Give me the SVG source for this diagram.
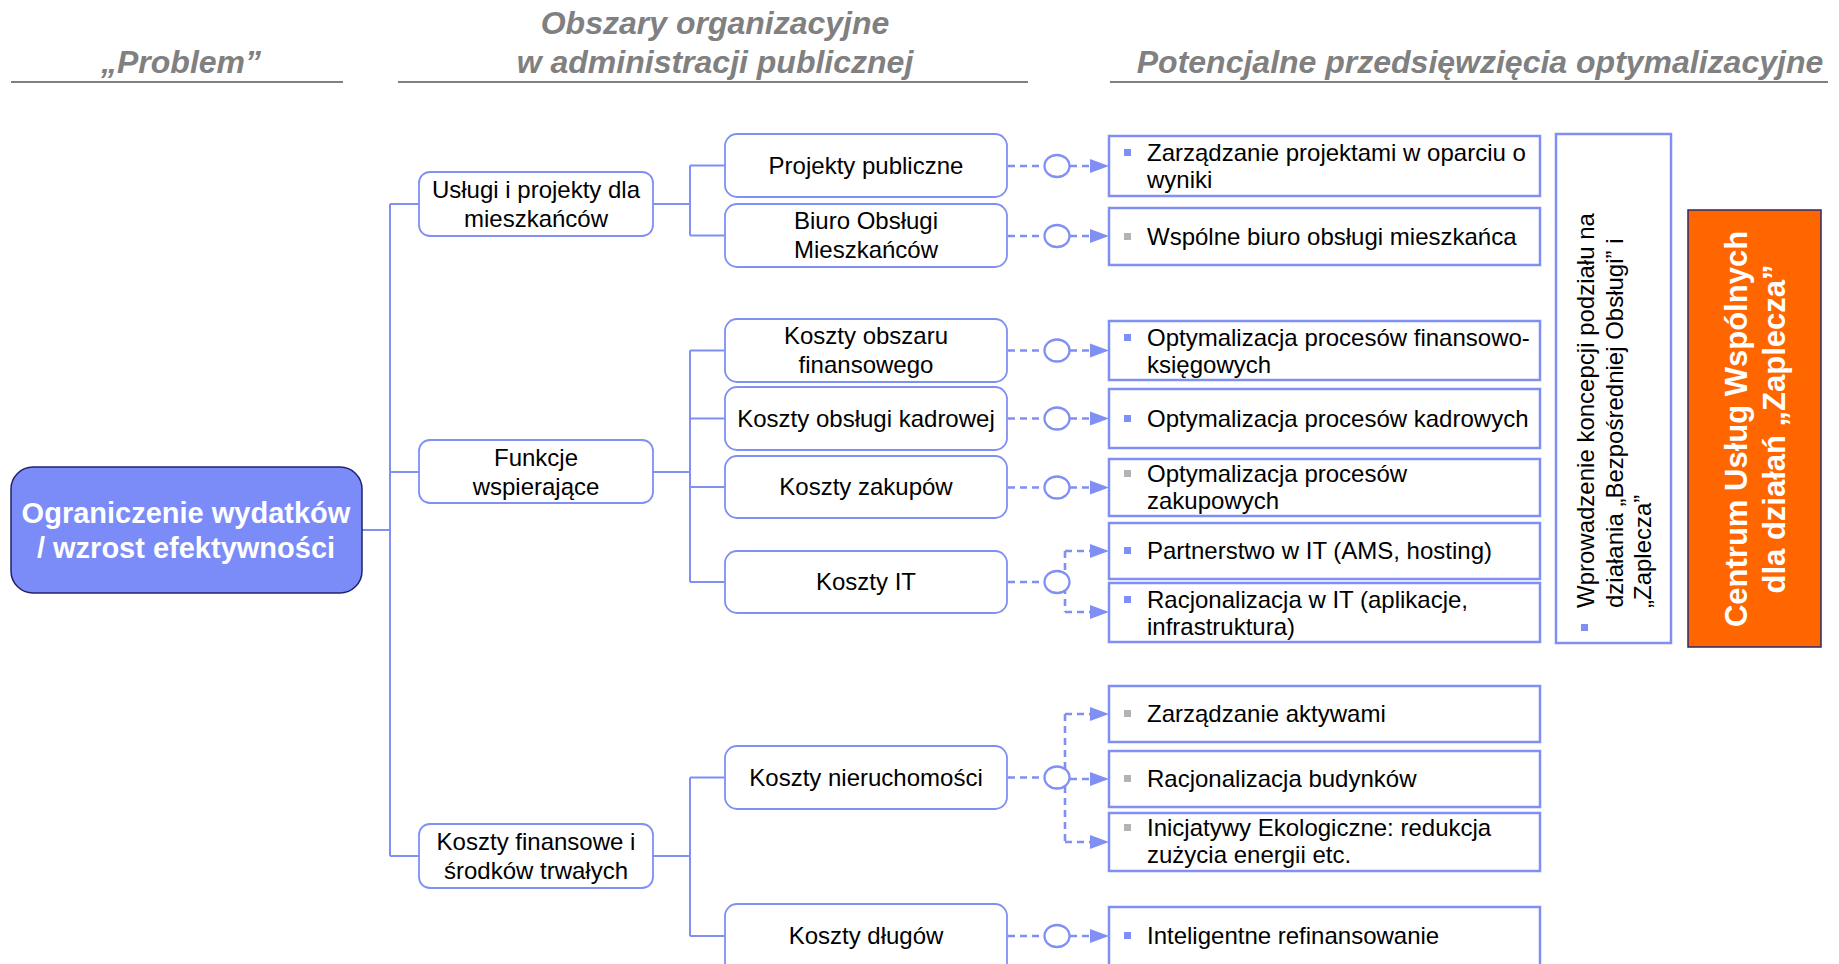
<svg xmlns="http://www.w3.org/2000/svg" width="1839" height="964" viewBox="0 0 1839 964">
<style>
.hdr{font-family:"Liberation Sans",Arial,sans-serif;font-weight:bold;font-style:italic;font-size:32px;fill:#808080;text-anchor:middle}
.hl{stroke:#808080;stroke-width:2;fill:none}
.t{font-family:"Liberation Sans",Arial,sans-serif;font-size:24px;fill:#000}
.c{text-anchor:middle}
.nb{fill:#fff;stroke:#7f8ff4;stroke-width:1.8}
.rb{fill:#fff;stroke:#7f8ff4;stroke-width:2.5}
.ln{stroke:#7f8ff4;stroke-width:2;fill:none}
.ds{stroke:#7f8ff4;stroke-width:2.6;fill:none;stroke-dasharray:7 5}
.ci{stroke:#7f8ff4;stroke-width:2.3;fill:#fff}
.ar{fill:#7f8ff4}
.bb{fill:#7f8ff4}
.bg{fill:#b3b3b3}
.wb{font-family:"Liberation Sans",Arial,sans-serif;font-weight:bold;fill:#fff;text-anchor:middle}
</style>
<rect width="1839" height="964" fill="#fff"/>

<g id="headers">
<text class="hdr" x="181" y="73">„Problem”</text>
<line class="hl" x1="11" y1="82" x2="343" y2="82"/>
<text class="hdr" x="715" y="34">Obszary organizacyjne</text>
<text class="hdr" x="715" y="73">w administracji publicznej</text>
<line class="hl" x1="398" y1="82" x2="1028" y2="82"/>
<text class="hdr" x="1480" y="73">Potencjalne przedsięwzięcia optymalizacyjne</text>
<line class="hl" x1="1110" y1="82" x2="1828" y2="82"/>
</g>

<g id="connectors">
<line class="ln" x1="362" y1="530" x2="390" y2="530"/>
<line class="ln" x1="390" y1="204" x2="390" y2="856"/>
<line class="ln" x1="390" y1="204" x2="419" y2="204"/>
<line class="ln" x1="390" y1="472" x2="419" y2="472"/>
<line class="ln" x1="390" y1="856" x2="419" y2="856"/>

<line class="ln" x1="653" y1="204" x2="690" y2="204"/>
<line class="ln" x1="690" y1="165.5" x2="690" y2="235.5"/>
<line class="ln" x1="690" y1="165.5" x2="725" y2="165.5"/>
<line class="ln" x1="690" y1="235.5" x2="725" y2="235.5"/>

<line class="ln" x1="653" y1="472" x2="690" y2="472"/>
<line class="ln" x1="690" y1="350.5" x2="690" y2="582"/>
<line class="ln" x1="690" y1="350.5" x2="725" y2="350.5"/>
<line class="ln" x1="690" y1="418.5" x2="725" y2="418.5"/>
<line class="ln" x1="690" y1="487" x2="725" y2="487"/>
<line class="ln" x1="690" y1="582" x2="725" y2="582"/>

<line class="ln" x1="653" y1="856" x2="690" y2="856"/>
<line class="ln" x1="690" y1="777.5" x2="690" y2="936"/>
<line class="ln" x1="690" y1="777.5" x2="725" y2="777.5"/>
<line class="ln" x1="690" y1="936" x2="725" y2="936"/>

<g>
<path class="ds" d="M1008 166H1044M1070 166H1092"/><ellipse class="ci" cx="1057" cy="166" rx="12.5" ry="11"/><polygon class="ar" points="1090,159 1109,166 1090,173"/>
<path class="ds" d="M1008 236H1044M1070 236H1092"/><ellipse class="ci" cx="1057" cy="236" rx="12.5" ry="11"/><polygon class="ar" points="1090,229 1109,236 1090,243"/>
<path class="ds" d="M1008 350.5H1044M1070 350.5H1092"/><ellipse class="ci" cx="1057" cy="350.5" rx="12.5" ry="11"/><polygon class="ar" points="1090,343.5 1109,350.5 1090,357.5"/>
<path class="ds" d="M1008 418.5H1044M1070 418.5H1092"/><ellipse class="ci" cx="1057" cy="418.5" rx="12.5" ry="11"/><polygon class="ar" points="1090,411.5 1109,418.5 1090,425.5"/>
<path class="ds" d="M1008 487.5H1044M1070 487.5H1092"/><ellipse class="ci" cx="1057" cy="487.5" rx="12.5" ry="11"/><polygon class="ar" points="1090,480.5 1109,487.5 1090,494.5"/>
<path class="ds" d="M1008 936H1044M1070 936H1092"/><ellipse class="ci" cx="1057" cy="936" rx="12.5" ry="11"/><polygon class="ar" points="1090,929 1109,936 1090,943"/>
</g>
<g>
<path class="ds" d="M1008 582H1044"/>
<path class="ds" d="M1065 551V612M1065 551H1092M1065 612H1092"/>
<ellipse class="ci" cx="1057" cy="582" rx="12.5" ry="11"/>
<polygon class="ar" points="1090,544 1109,551 1090,558"/>
<polygon class="ar" points="1090,605 1109,612 1090,619"/>
</g>
<g>
<path class="ds" d="M1008 777.5H1044"/>
<path class="ds" d="M1065 714V842M1065 714H1092M1070 779H1092M1065 842H1092"/>
<ellipse class="ci" cx="1057" cy="777.5" rx="12.5" ry="11"/>
<polygon class="ar" points="1090,707 1109,714 1090,721"/>
<polygon class="ar" points="1090,772 1109,779 1090,786"/>
<polygon class="ar" points="1090,835 1109,842 1090,849"/>
</g>
</g>

<g id="root">
<rect x="11" y="467" width="351" height="126" rx="22" fill="#7b8cf8" stroke="#22226e" stroke-width="1.5"/>
<text class="wb" x="186" y="523" font-size="29">Ograniczenie wydatków</text>
<text class="wb" x="186" y="558" font-size="29">/ wzrost efektywności</text>
</g>

<g id="n-uslugi">
<rect class="nb" x="419" y="172" width="234" height="64" rx="11"/>
<text class="t c" x="536" y="198">Usługi i projekty dla</text>
<text class="t c" x="536" y="227">mieszkańców</text>
</g>
<g id="n-funkcje">
<rect class="nb" x="419" y="440" width="234" height="63" rx="11"/>
<text class="t c" x="536" y="466">Funkcje</text>
<text class="t c" x="536" y="495">wspierające</text>
</g>
<g id="n-koszty-fin">
<rect class="nb" x="419" y="824" width="234" height="64" rx="11"/>
<text class="t c" x="536" y="850">Koszty finansowe i</text>
<text class="t c" x="536" y="879">środków trwałych</text>
</g>

<g id="n-projekty">
<rect class="nb" x="725" y="134" width="282" height="63" rx="12"/>
<text class="t c" x="866" y="174">Projekty publiczne</text>
</g>
<g id="n-biuro">
<rect class="nb" x="725" y="204" width="282" height="63" rx="12"/>
<text class="t c" x="866" y="229">Biuro Obsługi</text>
<text class="t c" x="866" y="258">Mieszkańców</text>
</g>
<g id="n-obszaru">
<rect class="nb" x="725" y="319" width="282" height="63" rx="12"/>
<text class="t c" x="866" y="344">Koszty obszaru</text>
<text class="t c" x="866" y="373">finansowego</text>
</g>
<g id="n-kadrowej">
<rect class="nb" x="725" y="387" width="282" height="63" rx="12"/>
<text class="t c" x="866" y="427">Koszty obsługi kadrowej</text>
</g>
<g id="n-zakupow">
<rect class="nb" x="725" y="456" width="282" height="62" rx="12"/>
<text class="t c" x="866" y="495">Koszty zakupów</text>
</g>
<g id="n-it">
<rect class="nb" x="725" y="551" width="282" height="62" rx="12"/>
<text class="t c" x="866" y="590">Koszty IT</text>
</g>
<g id="n-nieruchomosci">
<rect class="nb" x="725" y="746" width="282" height="63" rx="12"/>
<text class="t c" x="866" y="786">Koszty nieruchomości</text>
</g>
<g id="n-dlugow">
<rect class="nb" x="725" y="904" width="282" height="70" rx="12"/>
<text class="t c" x="866" y="944">Koszty długów</text>
</g>

<g id="r-zarzadzanie-proj">
<rect class="rb" x="1109" y="136" width="431" height="60"/>
<rect class="bb" x="1124" y="149" width="7" height="7"/>
<text class="t" x="1147" y="161">Zarządzanie projektami w oparciu o</text>
<text class="t" x="1147" y="188">wyniki</text>
</g>
<g id="r-wspolne-biuro">
<rect class="rb" x="1109" y="208" width="431" height="57"/>
<rect class="bg" x="1124" y="233" width="7" height="7"/>
<text class="t" x="1147" y="245">Wspólne biuro obsługi mieszkańca</text>
</g>
<g id="r-finansowo">
<rect class="rb" x="1109" y="321" width="431" height="59"/>
<rect class="bb" x="1124" y="334" width="7" height="7"/>
<text class="t" x="1147" y="346">Optymalizacja procesów finansowo-</text>
<text class="t" x="1147" y="373">księgowych</text>
</g>
<g id="r-kadrowych">
<rect class="rb" x="1109" y="389" width="431" height="59"/>
<rect class="bb" x="1124" y="415" width="7" height="7"/>
<text class="t" x="1147" y="427">Optymalizacja procesów kadrowych</text>
</g>
<g id="r-zakupowych">
<rect class="rb" x="1109" y="459" width="431" height="57"/>
<rect class="bg" x="1124" y="470" width="7" height="7"/>
<text class="t" x="1147" y="482">Optymalizacja procesów</text>
<text class="t" x="1147" y="509">zakupowych</text>
</g>
<g id="r-partnerstwo">
<rect class="rb" x="1109" y="523" width="431" height="56"/>
<rect class="bb" x="1124" y="547" width="7" height="7"/>
<text class="t" x="1147" y="559">Partnerstwo w IT (AMS, hosting)</text>
</g>
<g id="r-racjonalizacja-it">
<rect class="rb" x="1109" y="583" width="431" height="59"/>
<rect class="bb" x="1124" y="596" width="7" height="7"/>
<text class="t" x="1147" y="608">Racjonalizacja w IT (aplikacje,</text>
<text class="t" x="1147" y="635">infrastruktura)</text>
</g>
<g id="r-aktywa">
<rect class="rb" x="1109" y="686" width="431" height="56"/>
<rect class="bg" x="1124" y="710" width="7" height="7"/>
<text class="t" x="1147" y="722">Zarządzanie aktywami</text>
</g>
<g id="r-budynki">
<rect class="rb" x="1109" y="751" width="431" height="56"/>
<rect class="bg" x="1124" y="775" width="7" height="7"/>
<text class="t" x="1147" y="787">Racjonalizacja budynków</text>
</g>
<g id="r-ekologia">
<rect class="rb" x="1109" y="813" width="431" height="58"/>
<rect class="bg" x="1124" y="824" width="7" height="7"/>
<text class="t" x="1147" y="836">Inicjatywy Ekologiczne: redukcja</text>
<text class="t" x="1147" y="863">zużycia energii etc.</text>
</g>
<g id="r-refinansowanie">
<rect class="rb" x="1109" y="907" width="431" height="70"/>
<rect class="bb" x="1124" y="932" width="7" height="7"/>
<text class="t" x="1147" y="944">Inteligentne refinansowanie</text>
</g>

<g id="koncepcja">
<rect class="rb" x="1556" y="134" width="115" height="509"/>
<rect class="bb" x="1581" y="624" width="7" height="7"/>
<text class="t" transform="translate(1594,608) rotate(-90)">Wprowadzenie koncepcji podziału na</text>
<text class="t" transform="translate(1623,608) rotate(-90)">działania „Bezpośredniej Obsługi” i</text>
<text class="t" transform="translate(1651,608) rotate(-90)">„Zaplecza”</text>
</g>

<g id="centrum">
<rect x="1688" y="210" width="133" height="437" fill="#ff6600" stroke="#2a2a6e" stroke-width="1.5"/>
<text class="wb" font-size="31" transform="translate(1747,429) rotate(-90)">Centrum Usług Wspólnych</text>
<text class="wb" font-size="31" transform="translate(1785,429) rotate(-90)">dla działań „Zaplecza”</text>
</g>
</svg>
